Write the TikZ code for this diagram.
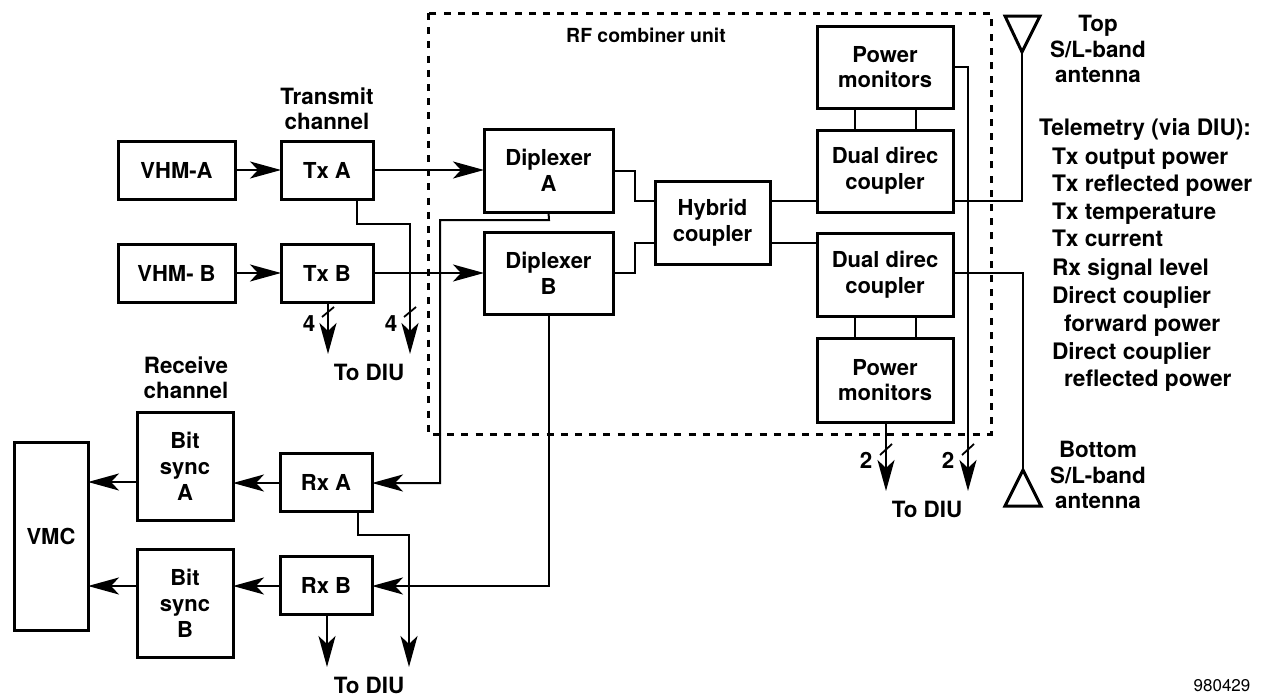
\documentclass[tikz,border=0pt]{standalone}
\usepackage{fontspec}
\setmainfont{TeX Gyre Heros}
\usetikzlibrary{arrows.meta,calc}
\tikzset{
  box/.style={draw=black,line width=3pt,fill=none,inner sep=0pt,outer sep=0pt,align=center,font=\fontsize{22}{25.8}\selectfont\bfseries},
  lab/.style={inner sep=0pt,outer sep=0pt,align=center,font=\fontsize{22.4}{25.4}\selectfont\bfseries},
  tele/.style={inner sep=0pt,outer sep=0pt,anchor=base west,font=\fontsize{22.7}{25}\selectfont\bfseries},
  wire/.style={draw=black,line width=2pt},
  flow/.style={wire,-{Stealth[length=31pt,width=17pt,inset=8pt]}},
  slashmark/.style={draw=black,line width=1.8pt},
  enclosure/.style={draw=black,line width=3pt,dash pattern=on 7pt off 7.2pt},
  aerial/.style={draw=black,line width=3pt,line join=miter},
}
\begin{document}
\begin{tikzpicture}[x=1pt,y=-1pt]
\useasboundingbox (0,0) rectangle (1266,696);
% enclosure
\draw[enclosure] (428,13) rectangle (991,434);
% boxes
\node[box,minimum width=117pt,minimum height=58pt] (vhma) at (176.5,170) {VHM-A};
\node[box,minimum width=92pt,minimum height=58pt] (txa) at (327,170) {Tx A};
\node[box,minimum width=117pt,minimum height=58pt] (vhmb) at (176.5,273) {VHM- B};
\node[box,minimum width=92pt,minimum height=58pt] (txb) at (327,273) {Tx B};
\node[box,minimum width=129pt,minimum height=83pt] (dipa) at (548.5,170.5) {Diplexer\\A};
\node[box,minimum width=129pt,minimum height=82pt] (dipb) at (548.5,273) {Diplexer\\B};
\node[box,minimum width=115pt,minimum height=83pt] (hyb) at (712.5,222.5) {Hybrid\\coupler};
\node[box,minimum width=136pt,minimum height=82pt] (pmt) at (885,67) {Power\\monitors};
\node[box,minimum width=136pt,minimum height=82pt] (dct) at (885,171) {Dual direc\\coupler};
\node[box,minimum width=136pt,minimum height=83pt] (dcb) at (885,274.5) {Dual direc\\coupler};
\node[box,minimum width=136pt,minimum height=84pt] (pmb) at (885,380) {Power\\monitors};
\node[box,minimum width=92pt,minimum height=58pt] (rxa) at (326,482) {Rx A};
\node[box,minimum width=92pt,minimum height=58pt] (rxb) at (326,585) {Rx B};
\node[box,minimum width=96pt,minimum height=108pt] (bsa) at (185,466) {Bit\\sync\\A};
\node[box,minimum width=96pt,minimum height=108pt] (bsb) at (185,603) {Bit\\sync\\B};
\node[box,minimum width=74pt,minimum height=188pt] (vmc) at (51,536) {VMC};
% free ends
\coordinate (tipa) at (410,354);
\coordinate (tipb) at (328,354);
\coordinate (tipc) at (409,667);
\coordinate (tipd) at (327,667);
\coordinate (tipe) at (886,491);
\coordinate (tipf) at (968,491);
\coordinate (anta) at (1022,52);
\coordinate (antb) at (1023,470);
% antennas
\draw[aerial] (anta) -- (1005,16) -- (1040,16) -- cycle;
\draw[aerial] (antb) -- (1005,506) -- (1041,506) -- cycle;
% forward
\draw[flow] (vhma.east |- 0,170) -- (txa.west |- 0,170);
\draw[flow] (txa.east |- 0,170) -- (dipa.west |- 0,170);
\draw[flow] (vhmb.east |- 0,273) -- (txb.west |- 0,273);
\draw[flow] (txb.east |- 0,273) -- (dipb.west |- 0,273);
% to DIU top left
\draw[flow] ([xshift=30pt]txa.south) |- (410,224) -- (tipa);
\draw[flow] (txb.south -| tipb) -- (tipb);
\draw[slashmark] (404,317) -- (416,307);
\draw[slashmark] (322,317) -- (334,307);
% diplexer -> hybrid
\draw[wire] (dipa.east |- 0,171) -- (635,171) |- (hyb.west |- 0,201);
\draw[wire] (dipb.east |- 0,273) -- (635,273) |- (hyb.west |- 0,243);
\draw[wire] (hyb.east |- 0,201) -- (dct.west |- 0,201);
\draw[wire] (hyb.east |- 0,243) -- (dcb.west |- 0,243);
% monitors
\draw[wire] (855,108) -- (855,130);
\draw[wire] (916,108) -- (916,130);
\draw[wire] (855,316) -- (855,338);
\draw[wire] (916,316) -- (916,338);
% antennas wiring
\draw[wire] (anta) |- (dct.east |- 0,201);
\draw[wire] (antb) |- (dcb.east |- 0,273);
% monitors to DIU
\draw[flow] (pmt.east |- 0,67) -| (tipf);
\draw[flow] (pmb.south -| tipe) -- (tipe);
\draw[slashmark] (880,455) -- (892,444);
\draw[slashmark] (962,455) -- (974,444);
% receive
\draw[flow] (dipa.south |- 0,212) -- (549,220) -| (440,483) -- (rxa.east |- 0,483);
\draw[flow] (dipb.south) |- (rxb.east |- 0,586);
\draw[flow] (rxa.west |- 0,483) -- (bsa.east |- 0,483);
\draw[flow] (rxb.west |- 0,586) -- (bsb.east |- 0,586);
\draw[flow] (bsa.west |- 0,482) -- (vmc.east |- 0,482);
\draw[flow] (bsb.west |- 0,586) -- (vmc.east |- 0,586);
\draw[flow] ([xshift=32pt]rxa.south) |- (409,535) -- (tipc);
\draw[flow] (rxb.south -| tipd) -- (tipd);
% labels
\node[lab] (l1) at (327,109) {Transmit\\channel};
\node[lab] (l2) at (186,378) {Receive\\channel};
\node[lab,font=\fontsize{19.4}{23}\selectfont\bfseries] (l3) at (646,35) {RF combiner unit};
\node[lab] (l4) at (1098,49) {Top\\S/L-band\\antenna};
\node[lab] (l5) at (1098,475) {Bottom\\S/L-band\\antenna};
\node[lab] (l6) at (369,372) {To DIU};
\node[lab] (l7) at (369,685) {To DIU};
\node[lab] (l8) at (927,509) {To DIU};
\node[lab] (n1) at (309,324) {4};
\node[lab] (n2) at (391,324) {4};
\node[lab] (n3) at (866,460) {2};
\node[lab] (n4) at (948,460) {2};
\node[tele] (t0) at (1039,135) {Telemetry (via DIU):};
\node[tele] (t1) at (1052,164) {Tx output power};
\node[tele] (t2) at (1052,191) {Tx reflected power};
\node[tele] (t3) at (1052,219) {Tx temperature};
\node[tele] (t4) at (1052,246) {Tx current};
\node[tele] (t5) at (1052,275) {Rx signal level};
\node[tele] (t6) at (1052,303) {Direct couplier};
\node[tele] (t7) at (1064,331) {forward power};
\node[tele] (t8) at (1052,359) {Direct couplier};
\node[tele] (t9) at (1064,386) {reflected power};
\node[inner sep=0pt,font=\fontsize{17}{19}\selectfont] (id) at (1222,686) {980429};
\end{tikzpicture}
\end{document}
